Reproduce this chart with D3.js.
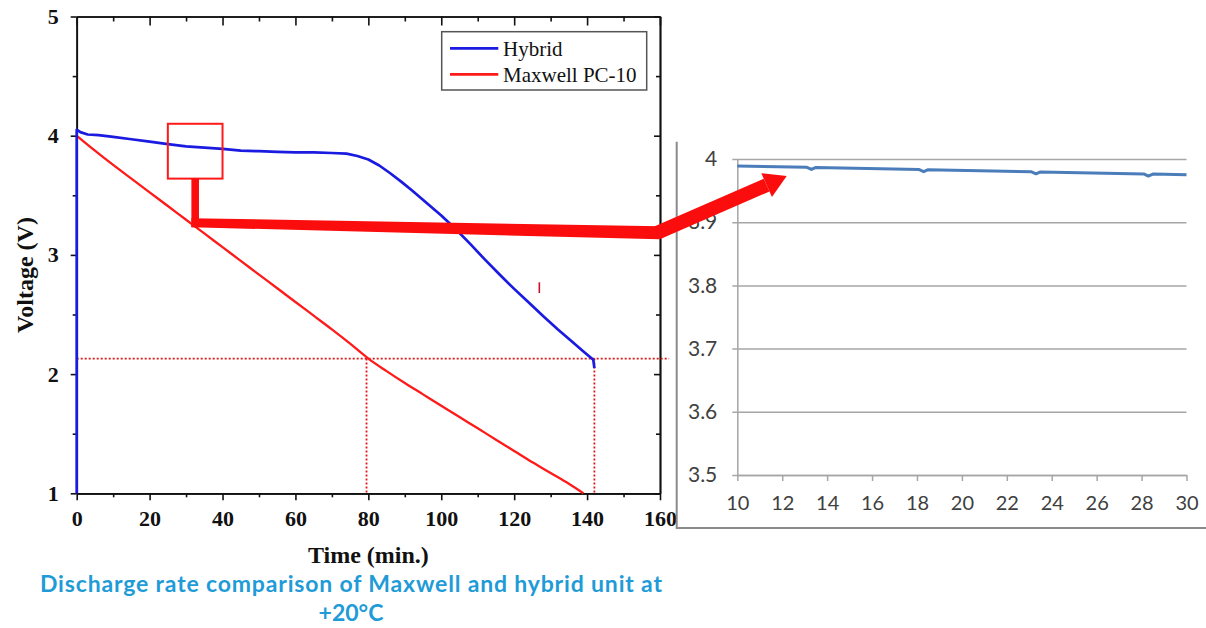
<!DOCTYPE html>
<html>
<head>
<meta charset="utf-8">
<script src="https://cdn.jsdelivr.net/npm/d3@7"></script>
<style>
  html, body { margin: 0; padding: 0; background: #fff; }
  svg { display: block; }
</style>
</head>
<body>
<svg id="chart" width="1206" height="628"></svg>
<script>
// ---- Discharge curves at +20 °C (time in minutes, voltage in volts) ----
// the first two hybrid points are the charge step at t = 0
const hybridTime = [0, 0, 1, 3, 6, 10, 15, 20, 25, 30, 35, 40, 45, 50, 55, 60, 65, 70, 74, 77, 80, 83, 86, 89, 92, 96, 100, 104, 108, 112, 116, 120, 124, 128, 132, 136, 139, 141.7, 142];
const hybridVolt = [1.00, 4.05, 4.03, 4.01, 4.005, 3.99, 3.97, 3.95, 3.93, 3.91, 3.90, 3.89, 3.875, 3.87, 3.865, 3.86, 3.86, 3.855, 3.85, 3.83, 3.80, 3.75, 3.685, 3.615, 3.54, 3.435, 3.33, 3.215, 3.09, 2.96, 2.835, 2.715, 2.60, 2.485, 2.375, 2.27, 2.19, 2.12, 2.05];

const maxwellTime = [0, 5, 10, 15, 20, 25, 30, 35, 40, 45, 50, 55, 60, 65, 70, 75, 80, 85, 90, 95, 100, 105, 110, 115, 120, 125, 130, 135, 139];
const maxwellVolt = [4.00, 3.875, 3.755, 3.64, 3.525, 3.41, 3.295, 3.18, 3.065, 2.95, 2.835, 2.72, 2.605, 2.49, 2.375, 2.255, 2.13, 2.025, 1.925, 1.83, 1.735, 1.64, 1.545, 1.45, 1.355, 1.26, 1.17, 1.08, 1.00];

const seriesNames = ["Hybrid", "Maxwell PC-10"];
const timeTicks = [0, 20, 40, 60, 80, 100, 120, 140, 160];
const timeMinorTicks = [10, 30, 50, 70, 90, 110, 130, 150];
const voltTicks = [1, 2, 3, 4, 5];
const voltMinorTicks = [1.5, 2.5, 3.5, 4.5];

// cut-off level and the times each unit reaches it
const cutoffVolt = 2.13;
const cutoffTimes = [79.5, 142];
const cutoffLineEnd = 162.5;

// stray pen mark on the original plot
const strayMarkTime = [126.9, 126.9];
const strayMarkVolt = [2.77, 2.68];

// ---- Close-up of the hybrid plateau, 10–30 min ----
const detailTime = [10, 13.1, 13.3, 13.5, 18.1, 18.3, 18.5, 23.1, 23.3, 23.5, 28.1, 28.3, 28.5, 30];
const detailVolt = [3.989, 3.9868, 3.9835, 3.9866, 3.9833, 3.980, 3.9831, 3.9798, 3.9765, 3.9796, 3.9763, 3.973, 3.9761, 3.975];
const detailTimeTicks = [10, 12, 14, 16, 18, 20, 22, 24, 26, 28, 30];
const detailVoltTicks = [3.5, 3.6, 3.7, 3.8, 3.9, 4];

// zoom call-out: region on the main plot and where the arrow points in the close-up
const calloutTimeRange = [25, 40];
const calloutVoltRange = [3.64, 4.10];
const calloutElbowVolt = [3.27, 3.185];
const calloutTip = [12.2, 3.973];

const caption = ["Discharge rate comparison of Maxwell and hybrid unit at", "+20\u00B0C"];

// ---- layout ----
const svg = d3.select("#chart");
const serif = "'Liberation Serif', 'Times New Roman', serif";
const sans = "Lato, 'Open Sans', sans-serif";
const blue = "#1a1ae0";
const red = "#ff1a1a";

const x = d3.scaleLinear().domain([0, 160]).range([76.7, 660]);
const y = d3.scaleLinear().domain([1, 5]).range([493.3, 16.5]);

const xd = d3.scaleLinear().domain([10, 30]).range([737.3, 1186.5]);
const yd = d3.scaleLinear().domain([3.5, 4]).range([475, 159]);

// ---------- main plot ----------
const main = svg.append("g");

function styleAxis(g, labelled) {
  g.select(".domain").attr("stroke", "#111").attr("stroke-width", 1.7);
  g.selectAll(".tick line").attr("stroke", "#111").attr("stroke-width", 1.6);
  if (labelled) {
    g.selectAll(".tick text")
      .attr("font-family", serif)
      .attr("font-size", 22)
      .attr("font-weight", "bold")
      .attr("fill", "#111");
  }
}

main.append("g").attr("transform", `translate(0,${y(1)})`)
  .call(d3.axisBottom(x).tickValues(timeMinorTicks).tickSize(4).tickSizeOuter(0).tickFormat(""))
  .call(g => styleAxis(g, false));
main.append("g").attr("transform", `translate(0,${y(1)})`)
  .call(d3.axisBottom(x).tickValues(timeTicks).tickSize(7).tickPadding(10).tickSizeOuter(0).tickFormat(d3.format("d")))
  .call(g => styleAxis(g, true));

main.append("g").attr("transform", `translate(0,${y(5)})`)
  .call(d3.axisTop(x).tickValues(timeMinorTicks).tickSize(-5).tickSizeOuter(0).tickFormat(""))
  .call(g => styleAxis(g, false));
main.append("g").attr("transform", `translate(0,${y(5)})`)
  .call(d3.axisTop(x).tickValues(timeTicks).tickSize(-9).tickSizeOuter(0).tickFormat(""))
  .call(g => styleAxis(g, false));

main.append("g").attr("transform", `translate(${x(0)},0)`)
  .call(d3.axisLeft(y).tickValues(voltMinorTicks).tickSize(4).tickSizeOuter(0).tickFormat(""))
  .call(g => styleAxis(g, false));
main.append("g").attr("transform", `translate(${x(0)},0)`)
  .call(d3.axisLeft(y).tickValues(voltTicks).tickSize(6).tickPadding(12).tickSizeOuter(0).tickFormat(d3.format("d")))
  .call(g => styleAxis(g, true));

main.append("g").attr("transform", `translate(${x(160)},0)`)
  .call(d3.axisRight(y).tickValues(voltMinorTicks).tickSize(-4).tickSizeOuter(0).tickFormat(""))
  .call(g => styleAxis(g, false));
main.append("g").attr("transform", `translate(${x(160)},0)`)
  .call(d3.axisRight(y).tickValues(voltTicks).tickSize(-6).tickSizeOuter(0).tickFormat(""))
  .call(g => styleAxis(g, false));

// axis titles
main.append("text")
  .attr("x", (x(0) + x(160)) / 2).attr("y", 563)
  .attr("text-anchor", "middle")
  .attr("font-family", serif).attr("font-size", 24).attr("font-weight", "bold")
  .attr("fill", "#111")
  .text("Time (min.)");

main.append("text")
  .attr("transform", "translate(33,275) rotate(-90)")
  .attr("text-anchor", "middle")
  .attr("font-family", serif).attr("font-size", 24).attr("font-weight", "bold")
  .attr("fill", "#111")
  .text("Voltage (V)");

// cut-off guides
const guides = main.append("g")
  .attr("stroke", "#e01818").attr("stroke-width", 1.8)
  .attr("stroke-dasharray", "2,2").attr("fill", "none");
guides.append("line")
  .attr("x1", x(0)).attr("x2", x(cutoffLineEnd))
  .attr("y1", y(cutoffVolt)).attr("y2", y(cutoffVolt));
guides.selectAll("line.v").data(cutoffTimes).join("line")
  .attr("class", "v")
  .attr("x1", d => x(d)).attr("x2", d => x(d))
  .attr("y1", y(cutoffVolt)).attr("y2", y(1));

// curves
const smoothLine = d3.line().curve(d3.curveMonotoneX).x(d => x(d[0])).y(d => y(d[1]));
const rawLine = d3.line().x(d => x(d[0])).y(d => y(d[1]));
main.append("path")
  .datum(d3.zip(maxwellTime, maxwellVolt))
  .attr("d", smoothLine)
  .attr("fill", "none").attr("stroke", red).attr("stroke-width", 2.3)
  .attr("stroke-linejoin", "round");
main.append("path")
  .datum(d3.zip(hybridTime, hybridVolt))
  .attr("d", rawLine)
  .attr("fill", "none").attr("stroke", blue).attr("stroke-width", 2.7)
  .attr("stroke-linejoin", "round");

main.append("path")
  .datum(d3.zip(strayMarkTime, strayMarkVolt))
  .attr("d", rawLine)
  .attr("fill", "none").attr("stroke", "#c8102e").attr("stroke-width", 1.6);

// legend
const legend = main.append("g");
legend.append("rect")
  .attr("x", 441.7).attr("y", 31.7).attr("width", 205).attr("height", 58.3)
  .attr("fill", "#fff").attr("stroke", "#555").attr("stroke-width", 1.5);
const legendRows = legend.selectAll("g.row")
  .data(d3.zip(seriesNames, [blue, red]))
  .join("g").attr("class", "row")
  .attr("transform", (d, i) => `translate(450,${48.3 + i * 26})`);
legendRows.append("line")
  .attr("x1", 0).attr("x2", 48.3)
  .attr("stroke", d => d[1]).attr("stroke-width", 2.7);
legendRows.append("text")
  .attr("x", 53).attr("y", 7.5)
  .attr("font-family", serif).attr("font-size", 21)
  .attr("fill", "#111")
  .text(d => d[0]);

// ---------- close-up panel ----------
const detail = svg.append("g");

// panel frame (left and bottom edges)
const frame = d3.path();
frame.moveTo(676.7, 141.7);
frame.lineTo(676.7, 528);
frame.lineTo(1206, 528);
detail.append("path")
  .attr("d", frame.toString())
  .attr("fill", "none").attr("stroke", "#8a8a8a").attr("stroke-width", 2);

// horizontal gridlines with value labels
detail.append("g")
  .attr("transform", `translate(${xd(10)},0)`)
  .call(d3.axisLeft(yd).tickValues(detailVoltTicks).tickSize(-(xd(30) - xd(10))).tickPadding(20).tickSizeOuter(0).tickFormat(d3.format("")))
  .call(g => {
    g.select(".domain").attr("stroke", "#a6a6a6").attr("stroke-width", 1.5);
    g.selectAll(".tick line").attr("stroke", "#a6a6a6").attr("stroke-width", 1.5)
      .attr("x1", -5);
    g.selectAll(".tick text")
      .attr("font-family", sans).attr("font-size", 21)
      .attr("fill", "#404040");
  });

// horizontal axis with outward ticks
detail.append("g")
  .attr("transform", `translate(0,${yd(3.5)})`)
  .call(d3.axisBottom(xd).tickValues(detailTimeTicks).tickSize(6).tickPadding(15).tickSizeOuter(0).tickFormat(d3.format("d")))
  .call(g => {
    g.select(".domain").attr("stroke", "#a6a6a6").attr("stroke-width", 1.5);
    g.selectAll(".tick line").attr("stroke", "#a6a6a6").attr("stroke-width", 1.5);
    g.selectAll(".tick text")
      .attr("font-family", sans).attr("font-size", 20)
      .attr("fill", "#404040");
  });

const detailLine = d3.line().x(d => xd(d[0])).y(d => yd(d[1]));
detail.append("path")
  .datum(d3.zip(detailTime, detailVolt))
  .attr("d", detailLine)
  .attr("fill", "none").attr("stroke", "#4a7dba").attr("stroke-width", 3)
  .attr("stroke-linejoin", "round");

// ---------- call-out box and arrow ----------
const callout = svg.append("g");
callout.append("rect")
  .attr("x", x(calloutTimeRange[0])).attr("y", y(calloutVoltRange[1]))
  .attr("width", x(calloutTimeRange[1]) - x(calloutTimeRange[0]))
  .attr("height", y(calloutVoltRange[0]) - y(calloutVoltRange[1]))
  .attr("fill", "none").attr("stroke", "#ff1a1a").attr("stroke-width", 2);

const arrowRed = "#fb0d0d";
const stemX = x((calloutTimeRange[0] + calloutTimeRange[1]) / 2);
const stemHalf = 3.8;
const elbowL = y(calloutElbowVolt[0]);
const elbowR = y(calloutElbowVolt[1]);
const elbowRX = x(160);
const tipX = xd(calloutTip[0]);
const tipY = yd(calloutTip[1]);

// vertical stem from the box
callout.append("rect")
  .attr("x", stemX - stemHalf).attr("y", y(calloutVoltRange[0]))
  .attr("width", stemHalf * 2).attr("height", elbowL + 4.5 - y(calloutVoltRange[0]))
  .attr("fill", arrowRed);

// long band, widening to the right
callout.append("polygon")
  .attr("points", [
    [stemX - stemHalf, elbowL - 4.5],
    [elbowRX, elbowR - 6.5],
    [elbowRX, elbowR + 6.5],
    [stemX - stemHalf, elbowL + 4.5]
  ].map(p => p.join(",")).join(" "))
  .attr("fill", arrowRed);

// rising shaft and head
const dx = tipX - elbowRX, dy = tipY - elbowR;
const len = Math.hypot(dx, dy);
const ux = dx / len, uy = dy / len;
const headLen = 22, headHalf = 13, shaftHalf = 7;
const baseX = tipX - ux * headLen, baseY = tipY - uy * headLen;
const nx = -uy, ny = ux;
callout.append("polygon")
  .attr("points", [
    [elbowRX - 3 + nx * shaftHalf, elbowR + ny * shaftHalf],
    [baseX + nx * shaftHalf, baseY + ny * shaftHalf],
    [baseX - nx * shaftHalf, baseY - ny * shaftHalf],
    [elbowRX - 3 - nx * shaftHalf, elbowR - ny * shaftHalf]
  ].map(p => p.join(",")).join(" "))
  .attr("fill", arrowRed);
callout.append("polygon")
  .attr("points", [
    [tipX, tipY],
    [baseX + nx * headHalf, baseY + ny * headHalf],
    [baseX - nx * headHalf, baseY - ny * headHalf]
  ].map(p => p.join(",")).join(" "))
  .attr("fill", arrowRed);

// ---------- caption ----------
svg.append("g").selectAll("text")
  .data(caption)
  .join("text")
  .attr("x", 351).attr("y", (d, i) => 592 + i * 29)
  .attr("text-anchor", "middle")
  .attr("font-family", sans).attr("font-size", 23).attr("font-weight", "bold")
  .attr("fill", "#1f9bd7")
  .each(function (d, i) {
    if (i === 0) d3.select(this).attr("textLength", 622).attr("lengthAdjust", "spacing");
  })
  .text(d => d);
</script>
</body>
</html>
